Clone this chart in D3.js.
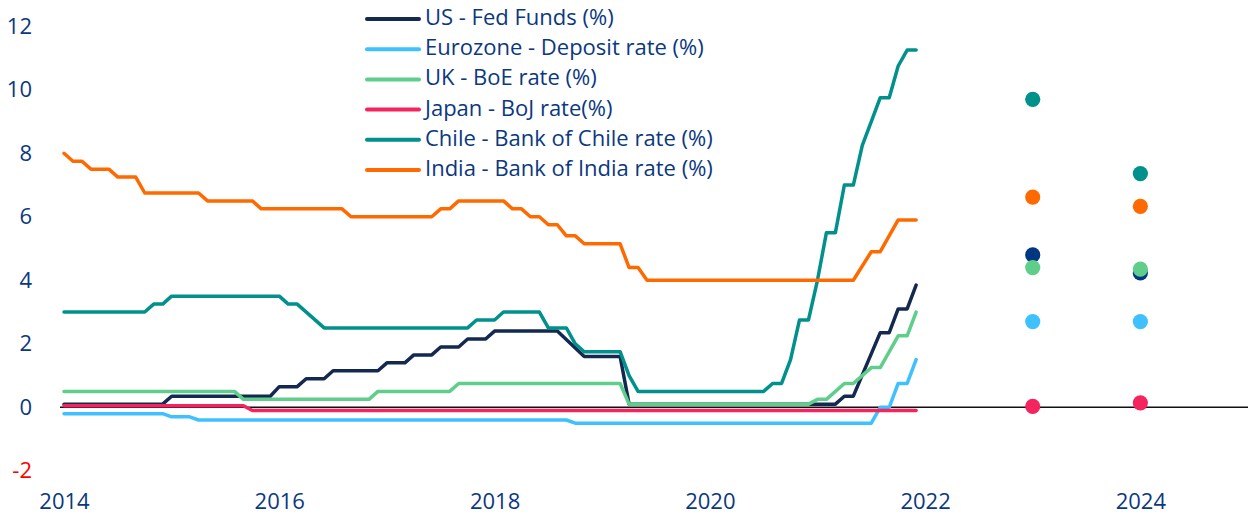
<!DOCTYPE html>
<html>
<head>
<meta charset="utf-8">
<script src="https://cdn.jsdelivr.net/npm/d3@7"></script>
<style>
  body { margin: 0; background: #ffffff; }
  text { font-family: "Open Sans", sans-serif; }
</style>
</head>
<body>
<svg id="chart"></svg>
<script>
var width = 1248
var height = 514

// [month offset from start of 2014 on the chart axis, rate in %]
var usFedFunds = [[0,0.1],[11,0.1],[12,0.35],[23,0.35],[24,0.65],[26,0.65],[27,0.9],[29,0.9],[30,1.15],[35,1.15],
                  [36,1.4],[38,1.4],[39,1.65],[41,1.65],[42,1.9],[44,1.9],[45,2.15],[47,2.15],[48,2.4],[55,2.4],
                  [58,1.6],[62,1.6],[63,0.1],[86,0.1],[87,0.35],[88,0.35],[91,2.35],[92,2.35],[93,3.1],[94,3.1],[95,3.85]]
var euroDeposit = [[0,-0.2],[11,-0.2],[12,-0.3],[14,-0.3],[15,-0.4],[56,-0.4],[57,-0.5],[90,-0.5],[91,0],[92,0],
                   [93,0.75],[94,0.75],[95,1.5]]
var ukBoe = [[0,0.5],[19,0.5],[20,0.25],[34,0.25],[35,0.5],[43,0.5],[44,0.75],[62,0.75],[63,0.1],[83,0.1],
             [84,0.25],[85,0.25],[87,0.75],[88,0.75],[90,1.25],[91,1.25],[93,2.25],[94,2.25],[95,3.0]]
var japanBoj = [[0,0.05],[20,0.05],[21,-0.1],[95,-0.1]]
var chileRate = [[0,3.0],[9,3.0],[10,3.25],[11,3.25],[12,3.5],[24,3.5],[25,3.25],[26,3.25],[29,2.5],[45,2.5],
                 [46,2.75],[48,2.75],[49,3.0],[53,3.0],[54,2.5],[56,2.5],[57,2.0],[58,1.75],[62,1.75],[63,1.0],
                 [64,0.5],[78,0.5],[79,0.75],[80,0.75],[81,1.5],[82,2.75],[83,2.75],[84,4.0],[85,5.5],[86,5.5],
                 [87,7.0],[88,7.0],[89,8.25],[90,9.0],[91,9.75],[92,9.75],[93,10.75],[94,11.25],[95,11.25]]
var indiaRate = [[0,8.0],[1,7.75],[2,7.75],[3,7.5],[5,7.5],[6,7.25],[8,7.25],[9,6.75],[15,6.75],[16,6.5],
                 [21,6.5],[22,6.25],[31,6.25],[32,6.0],[41,6.0],[42,6.25],[43,6.25],[44,6.5],[49,6.5],[50,6.25],
                 [51,6.25],[52,6.0],[53,6.0],[54,5.75],[55,5.75],[56,5.4],[57,5.4],[58,5.15],[62,5.15],[63,4.4],
                 [64,4.4],[65,4.0],[88,4.0],[90,4.9],[91,4.9],[93,5.9],[95,5.9]]

var seriesNames = ["US - Fed Funds (%)", "Eurozone - Deposit rate (%)", "UK - BoE rate (%)",
                   "Japan - BoJ rate(%)", "Chile - Bank of Chile rate (%)", "India - Bank of India rate (%)"]
var seriesData = [usFedFunds, euroDeposit, ukBoe, japanBoj, chileRate, indiaRate]
var seriesColors = ["#14294f", "#3fc1ff", "#5fce8a", "#f4245e", "#00918d", "#ff6a00"]
var dotColors = ["#003781", "#3fc1ff", "#5fce8a", "#f4245e", "#00918d", "#ff6a00"]

// forecast dots, same order as the series
var forecastYears = [2023, 2024]
var forecast2023 = [4.8, 2.7, 4.4, 0.03, 9.7, 6.62]
var forecast2024 = [4.23, 2.7, 4.35, 0.14, 7.36, 6.33]

var yTicks = [-2, 0, 2, 4, 6, 8, 10, 12]
var xTicks = [2014, 2016, 2018, 2020, 2022, 2024]

var textBlue = "#0b3880"

var svg = d3.select("#chart")
    .attr("width", width)
    .attr("height", height)

var x = d3.scaleLinear().domain([2014, 2025]).range([64, 1248])
var y = d3.scaleLinear().domain([-2, 12]).range([470.8, 26.3])

// y axis labels only (plain hyphen for the negative tick)
var yAxis = svg.append("g")
    .attr("transform", "translate(32,0)")
    .call(d3.axisLeft(y).tickValues(yTicks).tickSize(0).tickPadding(0).tickFormat(d => String(d)))
yAxis.select(".domain").remove()
yAxis.selectAll("text")
    .attr("font-size", "22px")
    .attr("font-family", "Open Sans, sans-serif")
    .style("fill", d => d < 0 ? "#ff0000" : textBlue)

var xAxis = svg.append("g")
    .attr("transform", "translate(0,493)")
    .call(d3.axisBottom(x).tickValues(xTicks).tickSize(0).tickPadding(0).tickFormat(d => String(d)))
xAxis.select(".domain").remove()
xAxis.selectAll("text")
    .attr("font-size", "22px")
    .attr("font-family", "Open Sans, sans-serif")
    .style("fill", textBlue)

// zero line
svg.append("line")
    .attr("x1", 60)
    .attr("x2", width)
    .attr("y1", y(0))
    .attr("y2", y(0))
    .attr("stroke", "#111")
    .attr("stroke-width", 1.5)

var line = d3.line()
    .x(d => x(2014 + d[0] / 12))
    .y(d => y(d[1]))

seriesData.forEach(function(s, i) {
    svg.append("path")
        .attr("d", line(s))
        .attr("fill", "none")
        .attr("stroke", seriesColors[i])
        .attr("stroke-width", 3.5)
        .attr("stroke-linejoin", "round")
        .attr("stroke-linecap", "round")
})

// forecast points
seriesNames.forEach(function(n, i) {
    [forecast2023[i], forecast2024[i]].forEach(function(v, j) {
        svg.append("circle")
            .attr("cx", x(forecastYears[j]))
            .attr("cy", y(v))
            .attr("r", 7.6)
            .attr("fill", dotColors[i])
    })
})

// legend
var legendX = 367
var legendY = 19
var legendStep = 30.2
seriesNames.forEach(function(n, i) {
    var ly = legendY + i * legendStep
    svg.append("line")
        .attr("x1", legendX)
        .attr("x2", legendX + 52)
        .attr("y1", ly)
        .attr("y2", ly)
        .attr("stroke", seriesColors[i])
        .attr("stroke-width", 4)
        .attr("stroke-linecap", "round")
    svg.append("text")
        .attr("x", legendX + 58)
        .attr("y", ly + 6)
        .attr("font-size", "22px")
        .style("fill", textBlue)
        .text(n)
})
</script>
</body>
</html>
